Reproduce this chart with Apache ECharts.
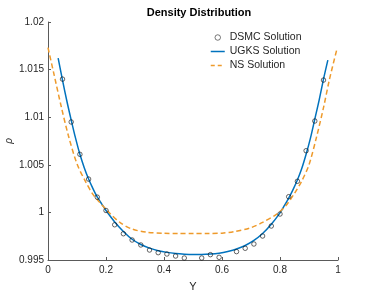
<!DOCTYPE html>
<html>
<head>
<meta charset="utf-8">
<script src="https://cdn.jsdelivr.net/npm/echarts@6/dist/echarts.min.js"></script>
<style>
html,body{margin:0;padding:0;background:#fff;}
#c{width:374px;height:293px;}
</style>
</head>
<body>
<div id="c"></div>
<script>
// DSMC points
const dsmcX = [0.05, 0.08, 0.11, 0.14, 0.17, 0.20, 0.23, 0.26, 0.29, 0.32, 0.35, 0.38, 0.41, 0.44, 0.47, 0.50, 0.53, 0.56, 0.59, 0.65, 0.68, 0.71, 0.74, 0.77, 0.80, 0.83, 0.86, 0.89, 0.92, 0.95];
const dsmcY = [1.0140, 1.0095, 1.0061, 1.0035, 1.0016, 1.0002, 0.9987, 0.99776, 0.99710, 0.99658, 0.99605, 0.99577, 0.99563, 0.99542, 0.99521, 0.99497, 0.99521, 0.99556, 0.99528, 0.99588, 0.99623, 0.99668, 0.99752, 0.99857, 0.99983, 1.00165, 1.00327, 1.00648, 1.0096, 1.0139];
// UGKS curve
const ugksX = [0.035, 0.05, 0.065, 0.08, 0.095, 0.11, 0.125, 0.14, 0.155, 0.17, 0.185, 0.20, 0.23, 0.26, 0.29, 0.32, 0.35, 0.38, 0.41, 0.44, 0.47, 0.50, 0.53, 0.56, 0.59, 0.62, 0.65, 0.68, 0.71, 0.74, 0.77, 0.80, 0.815, 0.83, 0.845, 0.86, 0.875, 0.89, 0.905, 0.92, 0.935, 0.95, 0.965];
const ugksY = [1.0162, 1.0139, 1.0117, 1.0097, 1.0078, 1.0061, 1.0047, 1.0035, 1.0025, 1.0016, 1.0009, 1.0002, 0.9990, 0.9980, 0.99718, 0.99663, 0.99625, 0.99598, 0.99580, 0.99568, 0.99561, 0.99558, 0.99558, 0.99562, 0.99572, 0.99590, 0.99615, 0.99652, 0.99705, 0.99778, 0.99875, 0.99995, 1.0007, 1.0015, 1.0024, 1.0034, 1.0046, 1.0061, 1.0078, 1.0098, 1.0118, 1.0140, 1.0160];
// NS curve
const nsX = [0.0, 0.02, 0.045, 0.07, 0.10, 0.13, 0.155, 0.18, 0.21, 0.25, 0.29, 0.34, 0.40, 0.45, 0.50, 0.55, 0.60, 0.64, 0.70, 0.74, 0.79, 0.82, 0.85, 0.875, 0.90, 0.925, 0.95, 0.97, 0.995];
const nsY = [1.0173, 1.0146, 1.0112, 1.0081, 1.0051, 1.0032, 1.0019, 1.0010, 1.0000, 0.99890, 0.99825, 0.99792, 0.99780, 0.99778, 0.99778, 0.99778, 0.99782, 0.99797, 0.99840, 0.99895, 0.99985, 1.0007, 1.0020, 1.0033, 1.0050, 1.0078, 1.0110, 1.0139, 1.0170];
// ticks
const xTicks = [0, 0.2, 0.4, 0.6, 0.8, 1];
const yTicks = ['0.995', '1', '1.005', '1.01', '1.015', '1.02'];

const zip = (xs, ys) => xs.map((x, i) => [x, ys[i]]);
const font = "'Liberation Sans', Arial, Helvetica, sans-serif";
const axisCol = '#5a5a5a';
const textCol = '#262626';
const blue = '#0072BD';
const orange = '#EE9A2B';

const chart = echarts.init(document.getElementById('c'), null, {renderer: 'canvas'});
chart.setOption({
  animation: false,
  backgroundColor: '#fff',
  title: {
    text: 'Density Distribution',
    left: 194, top: 2, textAlign: 'center',
    textStyle: {fontFamily: font, fontSize: 11, fontWeight: 'bold', color: '#000'}
  },
  legend: {
    orient: 'vertical',
    left: 205, top: 27,
    itemWidth: 14, itemHeight: 5.5, itemGap: 3,
    textStyle: {fontFamily: font, fontSize: 10.5, color: textCol, lineHeight: 10},
    lineStyle: {width: 1.5},
    data: [
      {name: 'DSMC Solution', itemStyle: {color: 'rgba(0,0,0,0)', borderColor: '#111', borderWidth: 0.7}},
      {name: 'UGKS Solution', itemStyle: {opacity: 0}},
      {name: 'NS Solution', itemStyle: {opacity: 0}, lineStyle: {type: [4, 3], width: 1.5}}
    ]
  },
  grid: {left: 48, top: 22, width: 290, height: 238, containLabel: false, outerBoundsMode: 'none'},
  xAxis: {
    type: 'value', min: 0, max: 1, interval: 0.2,
    name: 'Y', nameLocation: 'middle', nameGap: 21, nameMoveOverlap: false,
    nameTextStyle: {fontFamily: font, fontSize: 11, color: textCol},
    axisLine: {show: true, lineStyle: {color: axisCol, width: 1}},
    axisTick: {show: true, inside: true, length: 3, lineStyle: {color: axisCol}},
    axisLabel: {fontFamily: font, fontSize: 10, color: textCol, margin: 5,
      formatter: v => { const t = xTicks.find(k => Math.abs(k - v) < 1e-6); return t === undefined ? '' : String(t); }},
    splitLine: {show: false}
  },
  yAxis: {
    type: 'value', min: 0.995, max: 1.02, interval: 0.005,
    name: 'ρ', nameLocation: 'middle', nameGap: 34, nameRotate: 90, nameMoveOverlap: false,
    nameTextStyle: {fontFamily: font, fontSize: 10, fontStyle: 'italic', color: textCol},
    axisLine: {show: true, lineStyle: {color: axisCol, width: 1}},
    axisTick: {show: true, inside: true, length: 3, lineStyle: {color: axisCol}},
    axisLabel: {fontFamily: font, fontSize: 10, color: textCol, margin: 4,
      formatter: v => { const t = yTicks.find(k => Math.abs(parseFloat(k) - v) < 1e-6); return t === undefined ? '' : t; }},
    splitLine: {show: false}
  },
  series: [
    {
      name: 'DSMC Solution', type: 'scatter', data: zip(dsmcX, dsmcY),
      symbol: 'circle', symbolSize: 4.5, z: 5,
      itemStyle: {color: 'rgba(0,0,0,0)', borderColor: '#111', borderWidth: 0.8}
    },
    {
      name: 'UGKS Solution', type: 'line', data: zip(ugksX, ugksY),
      smooth: 0.3, showSymbol: false, symbol: 'none',
      lineStyle: {color: blue, width: 1.5},
      itemStyle: {color: blue}
    },
    {
      name: 'NS Solution', type: 'line', data: zip(nsX, nsY),
      smooth: 0.3, showSymbol: false, symbol: 'none',
      lineStyle: {color: orange, width: 1.5, type: [5, 3]},
      itemStyle: {color: orange}
    }
  ]
});
</script>
</body>
</html>
